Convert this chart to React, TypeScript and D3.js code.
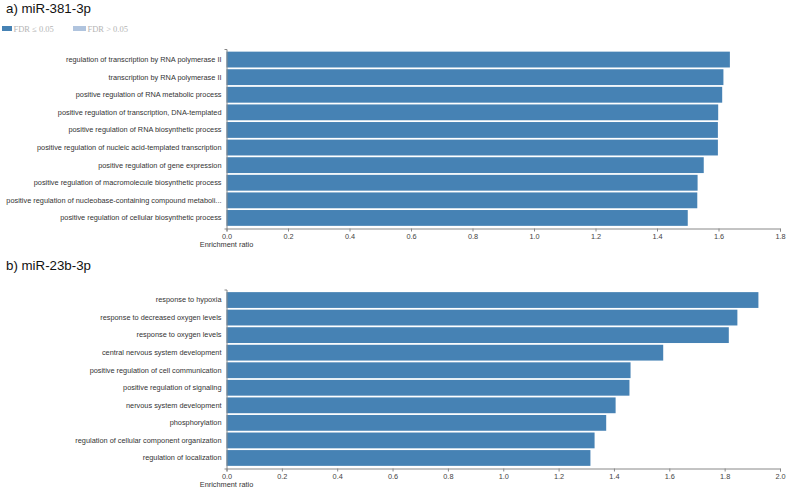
import React, { useEffect, useRef } from "react";
import * as d3 from "d3";

const categoriesA = [
  "regulation of transcription by RNA polymerase II",
  "transcription by RNA polymerase II",
  "positive regulation of RNA metabolic process",
  "positive regulation of transcription, DNA-templated",
  "positive regulation of RNA biosynthetic process",
  "positive regulation of nucleic acid-templated transcription",
  "positive regulation of gene expression",
  "positive regulation of macromolecule biosynthetic process",
  "positive regulation of nucleobase-containing compound metaboli...",
  "positive regulation of cellular biosynthetic process",
];
const valuesA = [1.637, 1.616, 1.612, 1.599, 1.598, 1.598, 1.552, 1.532, 1.531, 1.5];

const categoriesB = [
  "response to hypoxia",
  "response to decreased oxygen levels",
  "response to oxygen levels",
  "central nervous system development",
  "positive regulation of cell communication",
  "positive regulation of signaling",
  "nervous system development",
  "phosphorylation",
  "regulation of cellular component organization",
  "regulation of localization",
];
const valuesB = [1.922, 1.846, 1.815, 1.578, 1.46, 1.456, 1.406, 1.372, 1.33, 1.315];

const titles = ["a) miR-381-3p", "b) miR-23b-3p"];
const maxA = 1.8;
const maxB = 2.0;
const legendLabels = ["FDR \u2264 0.05", "FDR > 0.05"];
const xLabel = "Enrichment ratio";

const BAR = "#4682b4";
const BAR_LIGHT = "#b0c4de";
const FONT = "'Liberation Sans', Arial, sans-serif";

export default function App() {
  const ref = useRef<SVGSVGElement | null>(null);

  useEffect(() => {
    const svg = d3.select(ref.current);
    svg.selectAll("*").remove();

    // legend
    const lg = svg.append("g");
    const legendX = [2, 73];
    const legendW = [10, 13];
    [BAR, BAR_LIGHT].forEach((c, i) => {
      lg.append("rect").attr("x", legendX[i]).attr("y", 26).attr("width", legendW[i]).attr("height", 5).attr("fill", c);
      lg.append("text")
        .attr("x", legendX[i] + legendW[i] + 1.5)
        .attr("y", 31.5)
        .attr("font-family", "'Liberation Serif', 'DejaVu Serif', serif")
        .attr("font-size", 8.5)
        .attr("fill", "#b5b5b5")
        .text(legendLabels[i]);
    });

    const panels = [
      { cats: categoriesA, vals: valuesA, max: maxA, title: titles[0], titleY: 12.5, y0: 49, y1: 228.5 },
      { cats: categoriesB, vals: valuesB, max: maxB, title: titles[1], titleY: 270, y0: 289.5, y1: 468.5 },
    ];
    const xLeft = 226.5;
    const xRight = 780;
    const fs = 7.35;

    panels.forEach((p) => {
      const g = svg.append("g");
      g.append("text")
        .attr("x", 6)
        .attr("y", p.titleY)
        .attr("font-family", FONT)
        .attr("font-size", 13.3)
        .attr("fill", "#111")
        .text(p.title);

      const x = d3.scaleLinear().domain([0, p.max]).range([xLeft, xRight]);
      const y = d3
        .scaleBand<string>()
        .domain(p.cats)
        .range([p.y0, p.y1])
        .paddingInner(0.1)
        .paddingOuter(0.15);

      g.selectAll("rect.bar")
        .data(p.cats.map((c, i) => ({ c, v: p.vals[i] })))
        .enter()
        .append("rect")
        .attr("class", "bar")
        .attr("x", x(0))
        .attr("y", (d) => y(d.c) as number)
        .attr("width", (d) => x(d.v) - x(0))
        .attr("height", y.bandwidth())
        .attr("fill", BAR);

      const yAxis = g
        .append("g")
        .attr("transform", `translate(${xLeft},0)`)
        .call(d3.axisLeft(y).tickSize(0).tickSizeOuter(2).tickPadding(5));
      yAxis.selectAll("text").attr("font-family", FONT).attr("font-size", fs).attr("fill", "#333");
      yAxis.select(".domain").attr("stroke", "#888");

      const xAxis = g
        .append("g")
        .attr("transform", `translate(0,${p.y1})`)
        .call(
          d3
            .axisBottom(x)
            .ticks(10)
            .tickFormat(d3.format(".1f"))
            .tickSize(3)
            .tickSizeOuter(3)
            .tickPadding(2)
        );
      xAxis.selectAll("text").attr("font-family", FONT).attr("font-size", fs).attr("fill", "#444");
      xAxis.select(".domain").attr("stroke", "#888");
      xAxis.selectAll(".tick line").attr("stroke", "#888");

      g.append("text")
        .attr("x", xLeft)
        .attr("y", p.y1 + 18.5)
        .attr("text-anchor", "middle")
        .attr("font-family", FONT)
        .attr("font-size", fs)
        .attr("fill", "#333")
        .text(xLabel);
    });
  }, []);

  return (
    <svg
      ref={ref}
      width={786}
      height={488}
      style={{ position: "absolute", left: 0, top: 0, background: "#fff" }}
    />
  );
}
